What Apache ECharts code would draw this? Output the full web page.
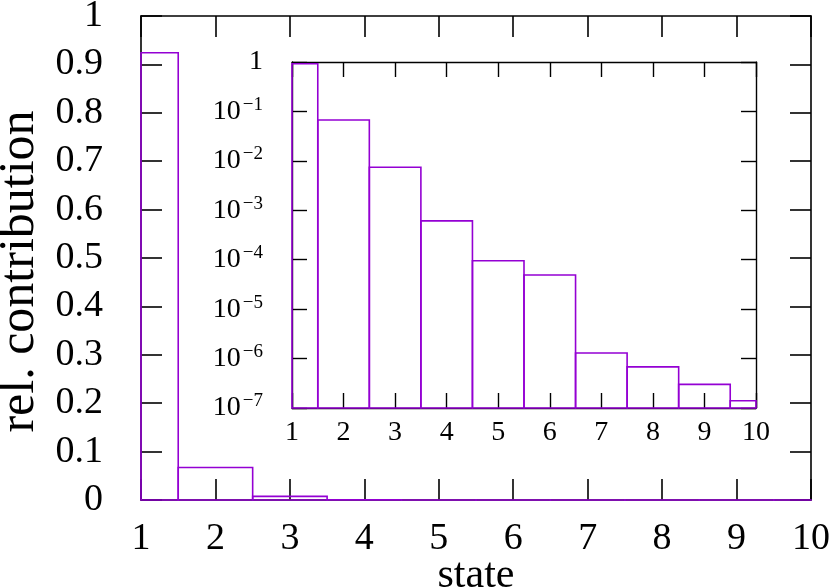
<!DOCTYPE html>
<html>
<head>
<meta charset="utf-8">
<script src="https://cdn.jsdelivr.net/npm/echarts@6/dist/echarts.min.js"></script>
<style>
  html, body { margin: 0; padding: 0; background: #fff; }
  #chart { width: 830px; height: 588px; }
</style>
</head>
<body>
<div id="chart"></div>
<script>
// data
const states = [1, 2, 3, 4, 5, 6, 7, 8, 9, 10]
const contribution = [0.924, 0.067, 0.0074, 6.1e-4, 9.5e-5, 4.9e-5, 1.3e-6, 6.8e-7, 3.0e-7, 1.4e-7]

const font = 'Liberation Serif'
const purple = '#9400d3'

let chart = echarts.init(document.getElementById('chart'))

let boxes = states.map((s, i) => [s, contribution[i]])

// one box per state, width 1, cut at the axis ends
function boxRender (base) {
  return function (params, api) {
    let x = api.value(0)
    let v = api.value(1)
    let p0 = api.coord([Math.max(x - 0.5, 1), base])
    let p1 = api.coord([Math.min(x + 0.5, 10), v])
    return {
      type: 'rect',
      shape: { x: p0[0], y: p1[1], width: p1[0] - p0[0], height: p0[1] - p1[1] },
      style: { fill: 'none', stroke: purple, lineWidth: 1.6 }
    }
  }
}

function frameAxis (extra, tickLen, w) {
  return Object.assign({
    axisLine: { show: true, onZero: false, lineStyle: { color: '#000', width: w } },
    axisTick: { show: true, inside: true, length: tickLen, lineStyle: { color: '#000', width: w } },
    splitLine: { show: false },
    minorTick: { show: false }
  }, extra)
}

function supLabel (v) {
  let e = Math.round(Math.log10(v))
  if (e === 0) return '{n|1}'
  return '{n|10}{s|−' + (-e) + '}'
}

chart.setOption({
  animation: false,
  grid: [
    { left: 141, right: 19, top: 16, bottom: 88, outerBoundsMode: 'none', containLabel: false },
    { left: 292, top: 62, width: 464, height: 346, show: true, backgroundColor: '#fff', borderWidth: 0, z: 5, outerBoundsMode: 'none', containLabel: false }
  ],
  xAxis: [
    frameAxis({
      gridIndex: 0, type: 'value', min: 1, max: 10, interval: 1, position: 'bottom',
      axisLabel: { fontFamily: font, fontSize: 38, color: '#000', margin: 20 },
      name: 'state', nameLocation: 'middle', nameGap: 55, nameMoveOverlap: false,
      nameTextStyle: { fontFamily: font, fontSize: 42, color: '#000' }
    }, 21, 1.6),
    frameAxis({
      gridIndex: 0, type: 'value', min: 1, max: 10, interval: 1, position: 'top',
      axisLabel: { show: false }
    }, 21, 1.6),
    frameAxis({
      gridIndex: 1, type: 'value', min: 1, max: 10, interval: 1, position: 'bottom', z: 6,
      axisLabel: { fontFamily: font, fontSize: 28, color: '#000', margin: 11 }
    }, 15, 1.4),
    frameAxis({
      gridIndex: 1, type: 'value', min: 1, max: 10, interval: 1, position: 'top', z: 6,
      axisLabel: { show: false }
    }, 15, 1.4)
  ],
  yAxis: [
    frameAxis({
      gridIndex: 0, type: 'value', min: 0, max: 1, interval: 0.1, position: 'left',
      axisLabel: { fontFamily: font, fontSize: 38, color: '#000', margin: 38 },
      name: 'rel. contribution', nameLocation: 'middle', nameGap: 96,
      nameTextStyle: { fontFamily: font, fontSize: 50, color: '#000', padding: [0, 27, 0, 0] }
    }, 21, 1.6),
    frameAxis({
      gridIndex: 0, type: 'value', min: 0, max: 1, interval: 0.1, position: 'right',
      axisLabel: { show: false }
    }, 21, 1.6),
    frameAxis({
      gridIndex: 1, type: 'log', logBase: 10, min: 1e-7, max: 1, position: 'left', z: 6,
      axisLabel: {
        margin: 29,
        formatter: supLabel,
        rich: {
          n: { fontFamily: font, fontSize: 28, color: '#000', lineHeight: 32 },
          s: { fontFamily: font, fontSize: 19, color: '#000', lineHeight: 32, verticalAlign: 'top', padding: [0, 0, 0, 2] }
        }
      }
    }, 15, 1.4),
    frameAxis({
      gridIndex: 1, type: 'log', logBase: 10, min: 1e-7, max: 1, position: 'right', z: 6,
      axisLabel: { show: false }
    }, 15, 1.4)
  ],
  series: [
    {
      type: 'custom', xAxisIndex: 0, yAxisIndex: 0, z: 2,
      renderItem: boxRender(0), data: boxes
    },
    {
      type: 'custom', xAxisIndex: 2, yAxisIndex: 2, z: 7,
      renderItem: boxRender(1e-7), data: boxes
    }
  ]
})
</script>
</body>
</html>
